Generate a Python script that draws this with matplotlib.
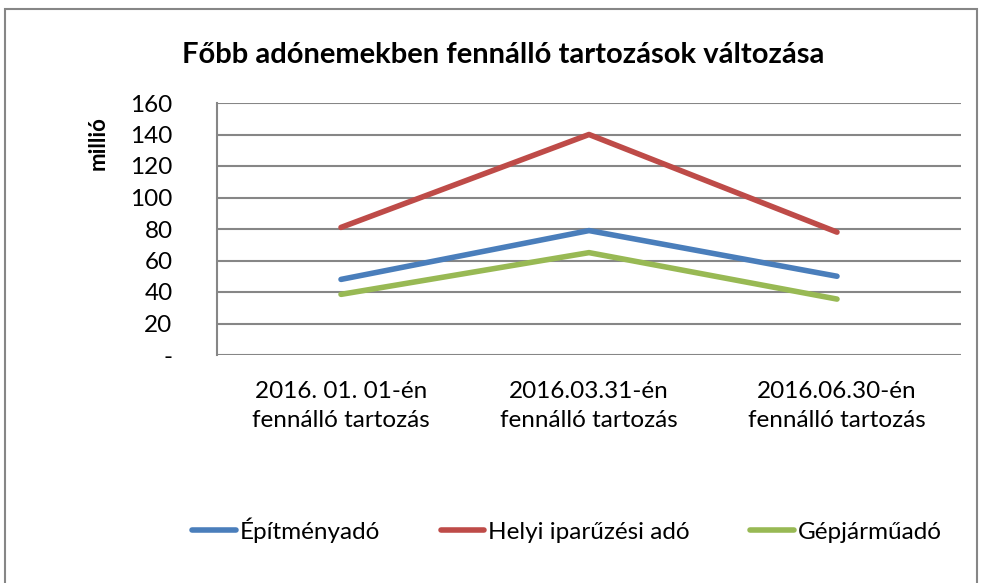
import matplotlib
matplotlib.use("Agg")
import matplotlib.pyplot as plt
from matplotlib.patches import Rectangle

categories = ["2016. 01. 01-én\nfennálló tartozás",
              "2016.03.31-én\nfennálló tartozás",
              "2016.06.30-én\nfennálló tartozás"]
epitmenyado = [48, 79, 50]
iparuzesi = [81, 140, 78]
gepjarmuado = [38.5, 65, 35.5]
series_names = ["Építményadó", "Helyi iparűzési adó", "Gépjárműadó"]
colors = ["#4a7ebb", "#be4b48", "#98b954"]
yticks = [0, 20, 40, 60, 80, 100, 120, 140, 160]
ytick_labels = ["-", "20", "40", "60", "80", "100", "120", "140", "160"]

plt.rcParams["font.family"] = ["Lato", "DejaVu Sans"]

fig = plt.figure(figsize=(9.81, 5.83), dpi=100)
fig.patches.append(Rectangle((5 / 981, -0.1), 972 / 981, 1 - 9 / 583 + 0.1,
                             transform=fig.transFigure, fill=False,
                             edgecolor="#868686", linewidth=1.5))
ax = fig.add_axes([217 / 981, 1 - 355 / 583, 744 / 981, 252 / 583])

x = range(len(categories))
for vals, name, c in zip([epitmenyado, iparuzesi, gepjarmuado], series_names, colors):
    ax.plot(x, vals, color=c, linewidth=4, solid_capstyle="round", label=name)

ax.set_xlim(-0.5, len(categories) - 0.5)
ax.set_ylim(0, 160)
ax.set_yticks(yticks)
ax.set_yticklabels(ytick_labels, fontsize=17.5)
ax.set_xticks(list(x))
ax.set_xticklabels(categories, fontsize=17.5, linespacing=1.45)
ax.tick_params(axis="y", length=0, pad=32)
ax.tick_params(axis="x", length=0, pad=19)
ax.grid(axis="y", color="#868686", linewidth=1.5)
ax.set_axisbelow(True)
for s in ["top", "right", "bottom"]:
    ax.spines[s].set_visible(False)
ax.spines["left"].set_color("#868686")
ax.spines["left"].set_linewidth(1.5)

ax.set_ylabel("millió", fontsize=16, fontweight="bold")
ax.yaxis.set_label_coords(-0.145, 0.84)

fig.text(503 / 981, 1 - 55 / 583, "Főbb adónemekben fennálló tartozások változása",
         ha="center", va="center", fontsize=21, fontweight="bold")

fig.legend(loc="center", bbox_to_anchor=(567 / 981, 1 - 530 / 583), ncol=3,
           frameon=False, fontsize=17.5, handlelength=1.8, handletextpad=0.15,
           columnspacing=2.5)

fig.savefig("out.png", dpi=100)
